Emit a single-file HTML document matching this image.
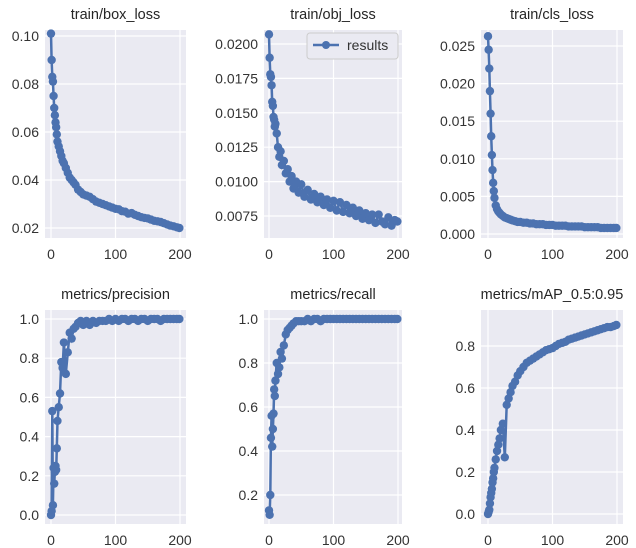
<!DOCTYPE html>
<html><head><meta charset="utf-8"><style>
body{margin:0;background:#fff;}
svg{display:block;font-family:"Liberation Sans",sans-serif;}
</style></head><body>
<svg id="chart" width="636" height="548" viewBox="0 0 636 548"></svg>
<script>
const epochs=[0,1,2,3,4,5,6,7,8,9,10,12,14,16,18,20,23,26,29,32,35,38,42,46,50,55,60,65,70,75,80,85,90,95,100,105,110,115,120,125,130,135,140,145,150,155,160,165,170,175,180,185,190,195,199];
const boxLoss=[0.101,0.090,0.083,0.081,0.075,0.070,0.067,0.064,0.062,0.059,0.056,0.054,0.052,0.050,0.048,0.047,0.045,0.043,0.041,0.040,0.039,0.038,0.036,0.035,0.034,0.0335,0.033,0.032,0.031,0.0305,0.030,0.0295,0.029,0.0285,0.028,0.0278,0.027,0.0268,0.026,0.0262,0.0255,0.025,0.0245,0.0242,0.024,0.0235,0.023,0.0228,0.0225,0.022,0.0215,0.021,0.0207,0.0203,0.020];
const objLoss=[0.0207,0.019,0.0178,0.0176,0.017,0.0158,0.0155,0.0147,0.0145,0.014,0.0142,0.0135,0.0125,0.0118,0.0122,0.0112,0.0115,0.0106,0.0109,0.0100,0.0104,0.0095,0.0100,0.0092,0.0098,0.0089,0.0094,0.0087,0.0091,0.0085,0.0089,0.0083,0.0087,0.0081,0.0086,0.0079,0.0085,0.0078,0.0083,0.0077,0.0081,0.0075,0.0079,0.0073,0.0077,0.0072,0.0076,0.0070,0.0076,0.0071,0.0069,0.0074,0.0068,0.0072,0.0071];
const clsLoss=[0.0263,0.0245,0.022,0.019,0.016,0.013,0.0105,0.0085,0.0068,0.0057,0.0048,0.0038,0.0033,0.0030,0.0028,0.0026,0.0024,0.0022,0.0021,0.0020,0.0019,0.0018,0.0017,0.0016,0.0016,0.0015,0.0015,0.0014,0.0014,0.0013,0.0013,0.0013,0.0012,0.0012,0.0012,0.0011,0.0011,0.0011,0.0011,0.0010,0.0010,0.0010,0.0010,0.0010,0.0009,0.0009,0.0009,0.0009,0.0009,0.0008,0.0008,0.0008,0.0008,0.0008,0.0008];
const precision=[0.0,0.02,0.53,0.05,0.24,0.16,0.22,0.25,0.23,0.34,0.48,0.55,0.62,0.78,0.75,0.88,0.72,0.83,0.93,0.90,0.95,0.96,0.98,0.99,0.97,0.99,0.97,0.99,0.98,0.99,0.99,0.99,1.0,0.99,1.0,0.99,1.0,1.0,0.99,1.0,1.0,0.99,1.0,1.0,0.99,1.0,1.0,1.0,0.99,1.0,1.0,1.0,1.0,1.0,1.0];
const recall=[0.13,0.11,0.20,0.46,0.56,0.42,0.50,0.57,0.68,0.65,0.72,0.80,0.75,0.78,0.85,0.82,0.88,0.93,0.95,0.96,0.97,0.98,0.99,0.99,0.99,0.99,1.0,0.99,1.0,1.0,0.99,1.0,1.0,1.0,1.0,1.0,1.0,1.0,1.0,1.0,1.0,1.0,1.0,1.0,1.0,1.0,1.0,1.0,1.0,1.0,1.0,1.0,1.0,1.0,1.0];
const mAP=[0.0,0.01,0.02,0.05,0.08,0.10,0.12,0.15,0.17,0.20,0.22,0.26,0.30,0.33,0.36,0.40,0.43,0.27,0.52,0.55,0.58,0.61,0.63,0.66,0.68,0.70,0.72,0.73,0.74,0.75,0.76,0.77,0.78,0.785,0.79,0.80,0.81,0.815,0.82,0.83,0.835,0.84,0.845,0.85,0.855,0.86,0.865,0.87,0.875,0.88,0.885,0.89,0.89,0.895,0.90];
const xTicks=[0,100,200];
const boxTicks=[0.02,0.04,0.06,0.08,0.10];
const objTicks=[0.0075,0.0100,0.0125,0.0150,0.0175,0.0200];
const clsTicks=[0.000,0.005,0.010,0.015,0.020,0.025];
const precTicks=[0.0,0.2,0.4,0.6,0.8,1.0];
const recTicks=[0.2,0.4,0.6,0.8,1.0];
const mapTicks=[0.0,0.2,0.4,0.6,0.8];
const titles=["train/box_loss","train/obj_loss","train/cls_loss","metrics/precision","metrics/recall","metrics/mAP_0.5:0.95"];

const NS="http://www.w3.org/2000/svg";
const svg=document.getElementById('chart');
function mk(tag,attrs,parent){const e=document.createElementNS(NS,tag);for(const k in attrs)e.setAttribute(k,attrs[k]);(parent||svg).appendChild(e);return e;}

const panels=[
 {l:45,r:186,t:30,b:238,x0:51,x200:180,ya:0.10,yaP:36,yb:0.02,ybP:228,vals:boxLoss,ticks:boxTicks,dec:2,name:'box-loss'},
 {l:264,r:402,t:30,b:238,x0:269,x200:398,ya:0.02,yaP:44,yb:0.0075,ybP:216,vals:objLoss,ticks:objTicks,dec:4,name:'obj-loss'},
 {l:481,r:623,t:30,b:238,x0:488,x200:617,ya:0.025,yaP:46,yb:0.0,ybP:234,vals:clsLoss,ticks:clsTicks,dec:3,name:'cls-loss'},
 {l:45,r:186,t:310,b:524,x0:51,x200:180,ya:1.0,yaP:319,yb:0.0,ybP:515,vals:precision,ticks:precTicks,dec:1,name:'precision'},
 {l:264,r:402,t:310,b:524,x0:269,x200:398,ya:1.0,yaP:319,yb:0.2,ybP:495,vals:recall,ticks:recTicks,dec:1,name:'recall'},
 {l:481,r:623,t:310,b:524,x0:488,x200:617,ya:0.8,yaP:346,yb:0.0,ybP:514,vals:mAP,ticks:mapTicks,dec:1,name:'map'}
];

panels.forEach((p,i)=>{
  const g=mk('g',{});
  
  
  const xs=v=>p.x0+(v/200)*(p.x200-p.x0);
  const ys=v=>p.ybP+(v-p.yb)/(p.ya-p.yb)*(p.yaP-p.ybP);
  const bg=mk('rect',{x:p.l,y:p.t,width:p.r-p.l,height:p.b-p.t,fill:'#eaeaf2'},g);
  
  
  xTicks.forEach(t=>{
    mk('line',{x1:xs(t),x2:xs(t),y1:p.t,y2:p.b,stroke:'#fff','stroke-width':1.2},g);
    const tx=mk('text',{x:xs(t),y:p.b+21,'text-anchor':'middle','font-size':14,fill:'#333'},g);
    tx.textContent=t;
    
    
  });
  p.ticks.forEach(t=>{
    mk('line',{x1:p.l,x2:p.r,y1:ys(t),y2:ys(t),stroke:'#fff','stroke-width':1.2},g);
    const tx=mk('text',{x:p.l-6,y:ys(t)+5,'text-anchor':'end','font-size':14,fill:'#333'},g);
    tx.textContent=t.toFixed(p.dec);
    
    
  });
  const title=mk('text',{x:(p.l+p.r)/2,y:p.t-11,'text-anchor':'middle','font-size':14.5,fill:'#262626'},g);
  title.textContent=titles[i];
  
  
  const pts=epochs.map((e,k)=>xs(e).toFixed(1)+','+ys(p.vals[k]).toFixed(1)).join(' ');
  const line=mk('polyline',{points:pts,fill:'none',stroke:'#4c72b0','stroke-width':2.5},g);
  
  
  epochs.forEach((e,k)=>{
    const c=mk('circle',{cx:xs(e),cy:ys(p.vals[k]),r:4.2,fill:'#4c72b0'},g);
    
    
  });
});

const lg=mk('g',{});


mk('rect',{x:307,y:33,width:91,height:26,rx:3,fill:'#eaeaf2',stroke:'#ccc','stroke-width':1},lg);
mk('line',{x1:313,x2:339,y1:45,y2:45,stroke:'#4c72b0','stroke-width':2.5},lg);
mk('circle',{cx:326,cy:45,r:4,fill:'#4c72b0'},lg);
const lt=mk('text',{x:347,y:50,'font-size':14,fill:'#333'},lg);
lt.textContent='results';


</script>
</body></html>
